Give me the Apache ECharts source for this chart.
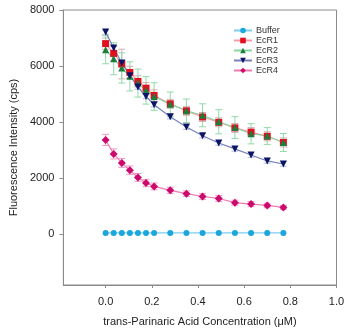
<!DOCTYPE html>
<html><head><meta charset="utf-8">
<script src="https://cdn.jsdelivr.net/npm/echarts@6/dist/echarts.min.js"></script>
<style>html,body{margin:0;padding:0;background:#fff}#c{width:350px;height:333px}</style>
</head><body><div id="c"></div>
<script>
var conc = [0, 0.035, 0.07, 0.105, 0.14, 0.175, 0.21, 0.28, 0.35, 0.42, 0.49, 0.56, 0.63, 0.70, 0.77];
var buffer = [40, 40, 40, 40, 40, 40, 40, 40, 40, 40, 40, 40, 40, 40, 40];
var ecr1 = [6800, 6450, 6070, 5770, 5450, 5210, 4950, 4650, 4400, 4180, 3990, 3790, 3640, 3490, 3270];
var ecr1Err = [200, 250, 530, 220, 200, 200, 200, 160, 160, 160, 160, 160, 160, 160, 160];
var ecr2 = [6580, 6260, 5930, 5630, 5390, 5130, 4910, 4630, 4400, 4240, 4010, 3800, 3580, 3500, 3270];
var ecr2Err = [500, 570, 540, 520, 500, 490, 490, 440, 420, 410, 430, 390, 360, 300, 320];
var ecr3 = [7210, 6640, 6110, 5650, 5250, 4910, 4620, 4190, 3820, 3510, 3250, 3040, 2820, 2610, 2500];
var ecr3Err = [80, 80, 80, 80, 80, 80, 80, 80, 80, 80, 80, 80, 80, 80, 80];
var ecr4 = [3360, 2860, 2540, 2280, 2020, 1820, 1700, 1560, 1440, 1340, 1270, 1120, 1070, 1020, 950];
var ecr4Err = [200, 180, 160, 150, 140, 130, 120, 110, 100, 110, 110, 90, 90, 80, 70];
var xTicks = [0, 0.2, 0.4, 0.6, 0.8, 1.0];
var yTicks = [0, 2000, 4000, 6000, 8000];

function pts(vals){ return conc.map(function(x,i){return [x, vals[i]];}); }
function errData(vals, errs){ return conc.map(function(x,i){return [x, vals[i]-errs[i], vals[i]+errs[i]];}); }
function errSeries(name, vals, errs, color){
  return {
    type: 'custom', name: name + 'err', data: errData(vals, errs), z: 1, silent: true,
    renderItem: function(params, api){
      var x = api.value(0);
      var lo = api.coord([x, api.value(1)]);
      var hi = api.coord([x, api.value(2)]);
      var w = 3.5;
      var st = {stroke: color, lineWidth: 1};
      return {type: 'group', children: [
        {type: 'line', shape: {x1: lo[0], y1: lo[1], x2: hi[0], y2: hi[1]}, style: st},
        {type: 'line', shape: {x1: lo[0]-w, y1: lo[1], x2: lo[0]+w, y2: lo[1]}, style: st},
        {type: 'line', shape: {x1: hi[0]-w, y1: hi[1], x2: hi[0]+w, y2: hi[1]}, style: st}
      ]};
    }
  };
}
function lineSeries(name, vals, sym, size, mcol, lcol, rot){
  return {
    type: 'line', name: name, data: pts(vals), symbol: sym, symbolSize: size,
    symbolRotate: rot || 0, z: 3,
    itemStyle: {color: mcol}, lineStyle: {color: lcol, width: 1.2}
  };
}
var font = 'Liberation Sans, Arial, Helvetica, sans-serif';
var chart = echarts.init(document.getElementById('c'));
chart.setOption({
  animation: false,
  grid: {left: 60, top: 10, right: 13.5, bottom: 48, show: true, borderColor: '#8a8a8a', borderWidth: 1},
  legend: {
    orient: 'vertical', left: 228, top: 21, itemWidth: 18, itemHeight: 7, itemGap: 1, padding: 5,
    textStyle: {fontSize: 9, lineHeight: 9, color: '#333', fontFamily: font, padding: [0,0,0,-1]},
    data: ['Buffer', 'EcR1', 'EcR2', 'EcR3', 'EcR4']
  },
  xAxis: {
    type: 'value', min: -0.183, max: 1.0,
    name: 'trans-Parinaric Acid Concentration (\u03bcM)', nameLocation: 'middle', nameGap: 31,
    nameTextStyle: {fontSize: 11, color: '#222', fontFamily: font},
    axisLine: {show: true, onZero: false, lineStyle: {color: '#8a8a8a'}},
    axisTick: {show: true, length: 3, lineStyle: {color: '#8a8a8a'}, customValues: xTicks},
    axisLabel: {fontSize: 11, color: '#222', fontFamily: font, margin: 11, customValues: xTicks,
      formatter: function(v){ return v.toFixed(1); }},
    splitLine: {show: false}
  },
  yAxis: {
    type: 'value', min: -1820, max: 8000,
    name: 'Fluorescence Intensity (cps)', nameLocation: 'middle', nameGap: 42,
    nameTextStyle: {fontSize: 11, color: '#222', fontFamily: font},
    axisLine: {show: true, onZero: false, lineStyle: {color: '#8a8a8a'}},
    axisTick: {show: true, length: 4, lineStyle: {color: '#8a8a8a'}, customValues: yTicks},
    axisLabel: {fontSize: 11, color: '#222', fontFamily: font, margin: 9, customValues: yTicks,
      formatter: function(v){ return String(v); }},
    splitLine: {show: false}
  },
  series: [
    errSeries('EcR1', ecr1, ecr1Err, '#d9aab4'),
    errSeries('EcR2', ecr2, ecr2Err, '#8fdaa8'),
    errSeries('EcR3', ecr3, ecr3Err, '#b8bde0'),
    errSeries('EcR4', ecr4, ecr4Err, '#f59ac4'),
    lineSeries('Buffer', buffer, 'circle', 6, '#1ba6dc', '#7fcdef'),
    lineSeries('EcR1', ecr1, 'rect', 7, '#e0101e', '#f79aa8'),
    lineSeries('EcR2', ecr2, 'triangle', 7, '#1b7f3c', '#86d69e'),
    lineSeries('EcR3', ecr3, 'triangle', 7, '#0b1466', '#7580bb', 180),
    lineSeries('EcR4', ecr4, 'diamond', 8, '#cc0a6e', '#f07ab0')
  ]
});
</script></body></html>
